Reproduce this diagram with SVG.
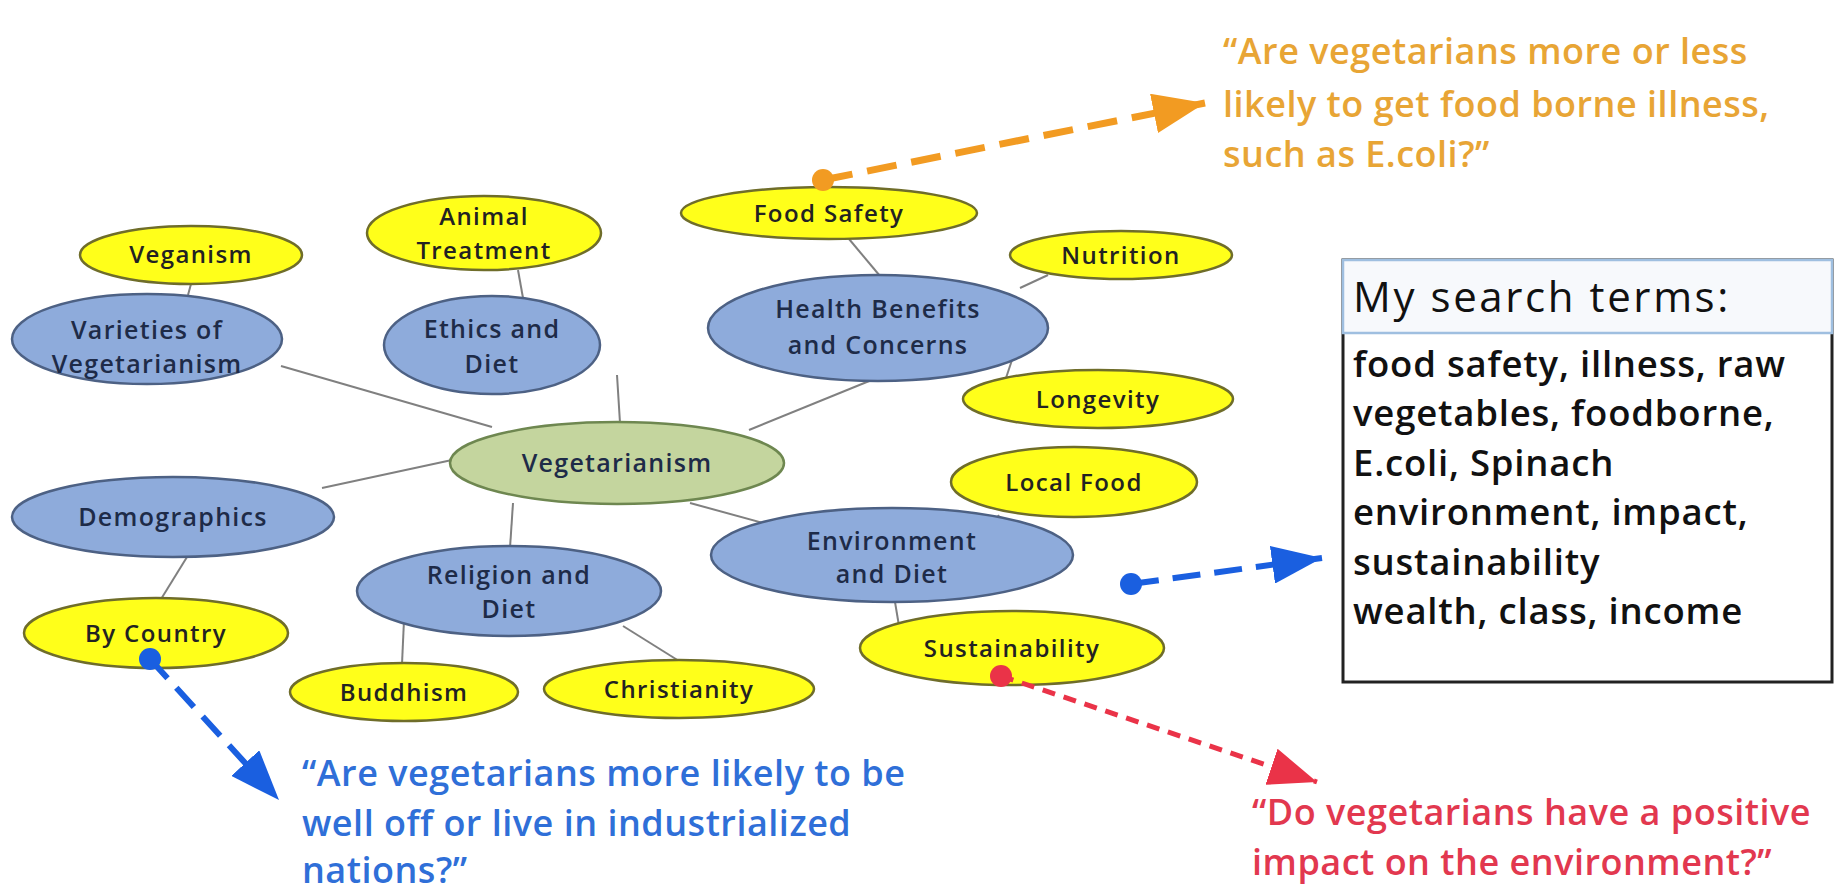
<svg xmlns="http://www.w3.org/2000/svg" width="1835" height="895" viewBox="0 0 1835 895">
<defs>
<style>
.bl{fill:#8eabdb;stroke:#4d6184;stroke-width:2.5}
.ye{fill:#ffff1a;stroke:#6f6d2a;stroke-width:2.5}
.gr{fill:#c4d59e;stroke:#6e8750;stroke-width:2.5}
.tb{font-family:"Open Sans",sans-serif;font-size:25px;font-weight:600;fill:#1e2b48;text-anchor:middle;letter-spacing:1.3px}
.ty{font-family:"Open Sans",sans-serif;font-size:24px;font-weight:600;fill:#222;text-anchor:middle;letter-spacing:1.4px}
.cn{stroke:#808080;stroke-width:2;fill:none}
.q{font-family:"Open Sans",sans-serif;font-size:36px;font-weight:600;letter-spacing:0.5px}
.st{font-family:"Open Sans",sans-serif;font-size:36.5px;font-weight:600;fill:#111;letter-spacing:0.8px}
</style>
<marker id="ho" markerWidth="52" markerHeight="40" refX="52" refY="20" orient="auto" markerUnits="userSpaceOnUse"><path d="M0,0 L52,20 L0,40 z" fill="#f29b22"/></marker>
<marker id="hb" markerWidth="50" markerHeight="38" refX="50" refY="19" orient="auto" markerUnits="userSpaceOnUse"><path d="M0,0 L50,19 L0,38 z" fill="#1a5fe0"/></marker>
<marker id="hr" markerWidth="48" markerHeight="38" refX="48" refY="19" orient="auto" markerUnits="userSpaceOnUse"><path d="M0,0 L48,19 L0,38 z" fill="#ea3348"/></marker>
</defs>
<rect width="1835" height="895" fill="#ffffff"/>

<g id="connectors">
<line class="cn" x1="191" y1="284" x2="188" y2="295"/>
<line class="cn" x1="518" y1="270" x2="523" y2="298"/>
<line class="cn" x1="849" y1="239" x2="880" y2="276"/>
<line class="cn" x1="1048" y1="275" x2="1020" y2="288"/>
<line class="cn" x1="1013" y1="357" x2="1006" y2="378"/>
<line class="cn" x1="281" y1="366" x2="492" y2="427"/>
<line class="cn" x1="617" y1="375" x2="620" y2="423"/>
<line class="cn" x1="884" y1="375" x2="749" y2="430"/>
<line class="cn" x1="322" y1="488" x2="452" y2="460"/>
<line class="cn" x1="513" y1="503" x2="510" y2="548"/>
<line class="cn" x1="690" y1="503" x2="778" y2="527"/>
<line class="cn" x1="998" y1="515" x2="1007" y2="530"/>
<line class="cn" x1="895" y1="602" x2="899" y2="626"/>
<line class="cn" x1="187" y1="557" x2="158" y2="604"/>
<line class="cn" x1="404" y1="620" x2="402" y2="664"/>
<line class="cn" x1="623" y1="626" x2="679" y2="661"/>
</g>

<g id="n-veganism"><ellipse class="ye" cx="191" cy="255" rx="111" ry="29"/><text class="ty" x="191" y="263">Veganism</text></g>
<g id="n-animal"><ellipse class="ye" cx="484" cy="233" rx="117" ry="37"/><text class="ty" x="484" y="225">Animal</text><text class="ty" x="484" y="259">Treatment</text></g>
<g id="n-foodsafety"><ellipse class="ye" cx="829" cy="213" rx="148" ry="26"/><text class="ty" x="829" y="222">Food Safety</text></g>
<g id="n-nutrition"><ellipse class="ye" cx="1121" cy="255" rx="111" ry="24"/><text class="ty" x="1121" y="264">Nutrition</text></g>
<g id="n-varieties"><ellipse class="bl" cx="147" cy="339" rx="135" ry="45"/><text class="tb" x="147" y="339">Varieties of</text><text class="tb" x="147" y="373">Vegetarianism</text></g>
<g id="n-ethics"><ellipse class="bl" cx="492" cy="345" rx="108" ry="49"/><text class="tb" x="492" y="338">Ethics and</text><text class="tb" x="492" y="373">Diet</text></g>
<g id="n-health"><ellipse class="bl" cx="878" cy="328" rx="170" ry="53"/><text class="tb" x="878" y="318">Health Benefits</text><text class="tb" x="878" y="354">and Concerns</text></g>
<g id="n-longevity"><ellipse class="ye" cx="1098" cy="399" rx="135" ry="29"/><text class="ty" x="1098" y="408">Longevity</text></g>
<g id="n-vegetarianism"><ellipse class="gr" cx="617" cy="463" rx="167" ry="41"/><text class="tb" x="617" y="472">Vegetarianism</text></g>
<g id="n-localfood"><ellipse class="ye" cx="1074" cy="482" rx="123" ry="35"/><text class="ty" x="1074" y="491">Local Food</text></g>
<g id="n-demographics"><ellipse class="bl" cx="173" cy="517" rx="161" ry="40"/><text class="tb" x="173" y="526">Demographics</text></g>
<g id="n-environment"><ellipse class="bl" cx="892" cy="555" rx="181" ry="47"/><text class="tb" x="892" y="550">Environment</text><text class="tb" x="892" y="583">and Diet</text></g>
<g id="n-religion"><ellipse class="bl" cx="509" cy="591" rx="152" ry="45"/><text class="tb" x="509" y="584">Religion and</text><text class="tb" x="509" y="618">Diet</text></g>
<g id="n-bycountry"><ellipse class="ye" cx="156" cy="633" rx="132" ry="35"/><text class="ty" x="156" y="642">By Country</text></g>
<g id="n-sustainability"><ellipse class="ye" cx="1012" cy="648" rx="152" ry="37"/><text class="ty" x="1012" y="657">Sustainability</text></g>
<g id="n-buddhism"><ellipse class="ye" cx="404" cy="692" rx="114" ry="29"/><text class="ty" x="404" y="701">Buddhism</text></g>
<g id="n-christianity"><ellipse class="ye" cx="679" cy="689" rx="135" ry="29"/><text class="ty" x="679" y="698">Christianity</text></g>

<g id="annotation-arrows">
<line x1="823" y1="180" x2="1205" y2="103" stroke="#f29b22" stroke-width="7" stroke-dasharray="30 15" marker-end="url(#ho)"/>
<circle cx="823" cy="180" r="11" fill="#f29b22"/>
<line x1="150" y1="659" x2="279" y2="800" stroke="#1a5fe0" stroke-width="6" stroke-dasharray="26 13" marker-end="url(#hb)"/>
<circle cx="150" cy="659" r="11" fill="#1a5fe0"/>
<line x1="1131" y1="584" x2="1322" y2="558" stroke="#1a5fe0" stroke-width="6" stroke-dasharray="28 14" marker-end="url(#hb)"/>
<circle cx="1131" cy="584" r="11" fill="#1a5fe0"/>
<line x1="1001" y1="676" x2="1317" y2="782" stroke="#ea3348" stroke-width="5" stroke-dasharray="13 9" marker-end="url(#hr)"/>
<circle cx="1001" cy="676" r="11" fill="#ea3348"/>
</g>

<g id="q-orange" class="q" fill="#e8a535">
<text x="1223" y="64">“Are vegetarians more or less</text>
<text x="1223" y="117">likely to get food borne illness,</text>
<text x="1223" y="167">such as E.coli?”</text>
</g>
<g id="q-blue" class="q" fill="#2f6fd8">
<text x="302" y="786">“Are vegetarians more likely to be</text>
<text x="302" y="836">well off or live in industrialized</text>
<text x="302" y="883">nations?”</text>
</g>
<g id="q-red" class="q" fill="#e2384f">
<text x="1252" y="825">“Do vegetarians have a positive</text>
<text x="1252" y="875">impact on the environment?”</text>
</g>

<g id="search-box">
<rect x="1343" y="260" width="489" height="422" fill="#ffffff" stroke="#222" stroke-width="3"/>
<rect x="1343" y="260" width="489" height="73" fill="#f7f9fc" stroke="#9fbfe0" stroke-width="2.5"/>
<text x="1353" y="312" class="st" style="font-size:42px;font-weight:400;letter-spacing:2.6px">My search terms:</text>
<text x="1353" y="377" class="st">food safety, illness, raw</text>
<text x="1353" y="426" class="st">vegetables, foodborne,</text>
<text x="1353" y="476" class="st">E.coli, Spinach</text>
<text x="1353" y="525" class="st">environment, impact,</text>
<text x="1353" y="575" class="st">sustainability</text>
<text x="1353" y="624" class="st">wealth, class, income</text>
</g>
</svg>
